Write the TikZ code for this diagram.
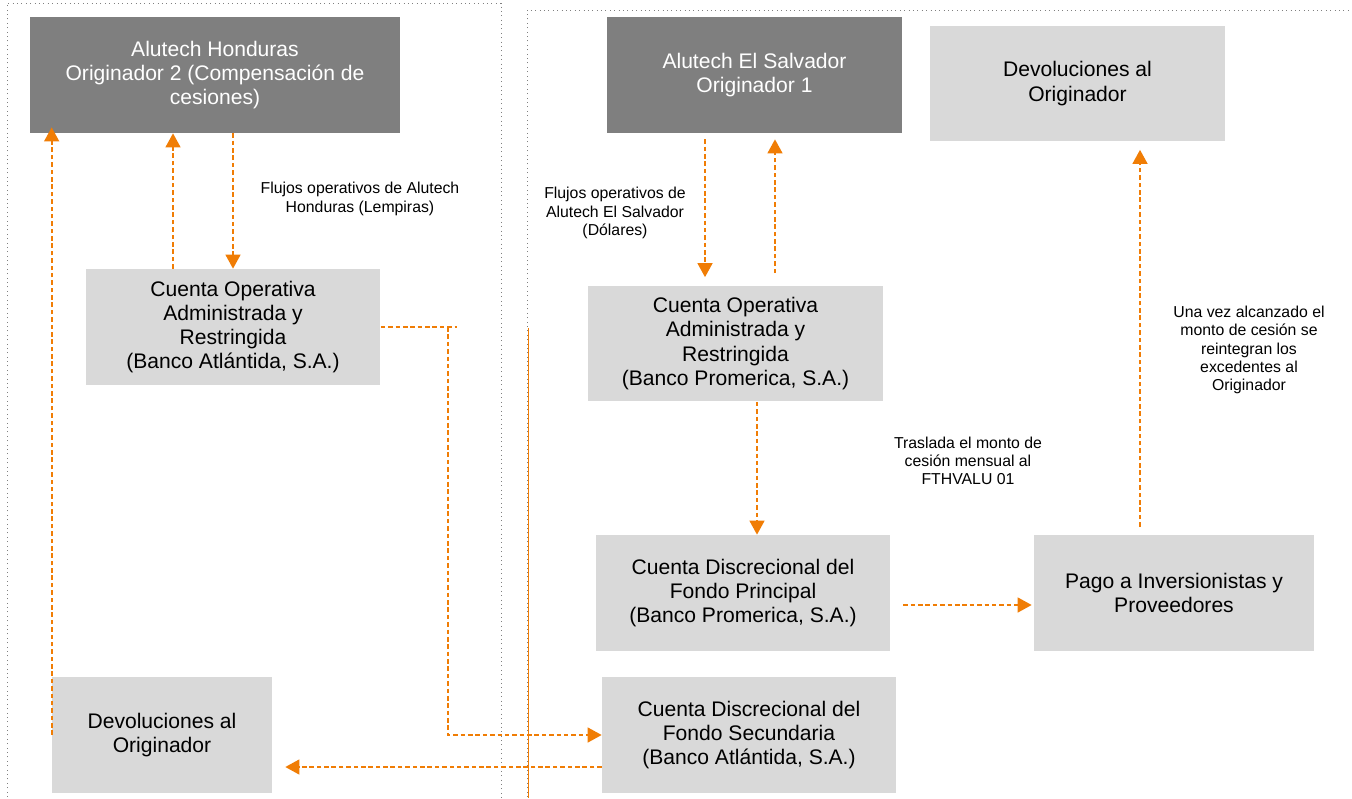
\documentclass[tikz,border=0pt]{standalone}
\usepackage{fontspec}
\setmainfont{Liberation Sans}
\usepackage{xcolor}
\usepackage{tikz}
\usetikzlibrary{calc}
\usetikzlibrary{arrows.meta}

\definecolor{naranja}{RGB}{240,125,5}
\definecolor{grisoscuro}{RGB}{127,127,127}
\definecolor{grisclaro}{RGB}{217,217,217}

\tikzset{
  cajaosc/.style={fill=grisoscuro, text=white, minimum width=#1, minimum height=2.32cm, inner sep=0pt, align=center, font=\fontsize{12}{13.8}\selectfont},
  cajaosc/.default=5.9cm,
  cajaclr/.style={fill=grisclaro, text=black, minimum width=#1, minimum height=2.32cm, inner sep=0pt, align=center, font=\fontsize{12}{13.8}\selectfont},
  cajaclr/.default=5.9cm,
  etiqueta/.style={align=center, inner sep=0pt, font=\fontsize{9}{10.4}\selectfont},
  flujo/.style={draw=naranja, line width=1pt, dash pattern=on 2.6pt off 1.6pt, -{Triangle[width=8.5pt,length=8pt]}},
  marco/.style={draw=gray, line width=0.5pt, dotted}
}

\begin{document}
\begin{tikzpicture}[x=0.02cm,y=-0.02cm]
        \useasboundingbox (0,0) rectangle (1352,798);
        %MARCOS
        \draw[marco] (7,810) -- (7,3) -- (501,3) -- (501,810);
        \draw[marco] (527,810) -- (527,10) -- (1360,10);
        %CAJAS
        \node[cajaosc=7.4cm] (hon) at (215,75) {Alutech Honduras\\Originador 2 (Compensación de\\cesiones)};
        \node[cajaclr] (opA) at (233,327) {Cuenta Operativa\\Administrada y\\Restringida\\(Banco Atlántida, S.A.)};
        \node[cajaosc] (sal) at (754.5,75) {Alutech El Salvador\\Originador 1};
        \node[cajaclr] (devR) at (1077.5,83.5) {Devoluciones al\\Originador};
        \node[cajaclr] (opP) at (735.5,343.5) {Cuenta Operativa\\Administrada y\\Restringida\\(Banco Promerica, S.A.)};
        \node[cajaclr=5.88cm] (prin) at (743,593) {Cuenta Discrecional del\\Fondo Principal\\(Banco Promerica, S.A.)};
        \node[cajaclr=5.6cm] (pago) at (1174,593) {Pago a Inversionistas y\\Proveedores};
        \node[cajaclr=5.88cm] (sec) at (749,735) {Cuenta Discrecional del\\Fondo Secundaria\\(Banco Atlántida, S.A.)};
        \node[cajaclr=4.4cm] (devL) at (162,735) {Devoluciones al\\Originador};
        %ETIQUETAS
        \node[etiqueta] (lblHon) at (360,199) {Flujos operativos de Alutech\\Honduras (Lempiras)};
        \node[etiqueta] (lblSal) at (615,213) {Flujos operativos de\\Alutech El Salvador\\(Dólares)};
        \node[etiqueta] (lblTras) at (968,461) {Traslada el monto de\\cesión mensual al\\FTHVALU 01};
        \node[etiqueta] (lblUna) at (1249,350) {Una vez alcanzado el\\monto de cesión se\\reintegran los\\excedentes al\\Originador};
        %COORDENADAS
        \coordinate (a1) at ([xshift=-1.2cm]opA.north);
        \coordinate (a2) at ([yshift=0.12cm]hon.south);
        \coordinate (cola) at (457,327);
        \coordinate (esq) at (448,500);
        \coordinate (b1) at ([yshift=-0.64cm]sec.west);
        \coordinate (b2) at ([xshift=0.26cm]devL.east);
        \coordinate (s1) at ([xshift=-0.99cm,yshift=-0.12cm]sal.south);
        \coordinate (s2) at ([yshift=0.16cm]opP.north);
        \coordinate (s3) at ([xshift=0.79cm,yshift=0.24cm]opP.north);
        \coordinate (s4) at ([yshift=-0.12cm]sal.south);
        \coordinate (p1) at ([xshift=0.43cm]opP.south);
        \coordinate (p2) at ([xshift=0.26cm,yshift=-0.24cm]prin.east);
        \coordinate (p3) at ([xshift=-0.04cm]pago.west);
        \coordinate (p4) at ([xshift=-0.68cm,yshift=0.16cm]pago.north);
        \coordinate (p5) at ([yshift=-0.16cm]devR.south);
        \coordinate (r1) at (528,328);
        \coordinate (r2) at (528,798);
        %FLUJOS HONDURAS
        \draw[flujo] (opA.north |- hon.south) -- (opA.north);
        \draw[flujo] (a1) -- (a1 |- hon.south);
        \draw[flujo] (devL.west) -- (devL.west |- a2);
        \draw[flujo,-] (opA.east) -- (opA.east -| cola);
        \draw[flujo] (opA.east -| esq) -- (esq |- sec.west) -- (sec.west);
        \draw[flujo] (b1) -- (b1 -| b2);
        %FLUJOS EL SALVADOR
        \draw[flujo] (s1) -- (s1 |- s2);
        \draw[flujo] (s3) -- (s3 |- s4);
        \draw[flujo] (p1) -- (p1 |- prin.north);
        \draw[flujo] (p2) -- (p2 -| p3);
        \draw[flujo] (p4) -- (p4 |- p5);
        \draw[naranja, line width=0.4pt] (r1) -- (r2);
\end{tikzpicture}
\end{document}
